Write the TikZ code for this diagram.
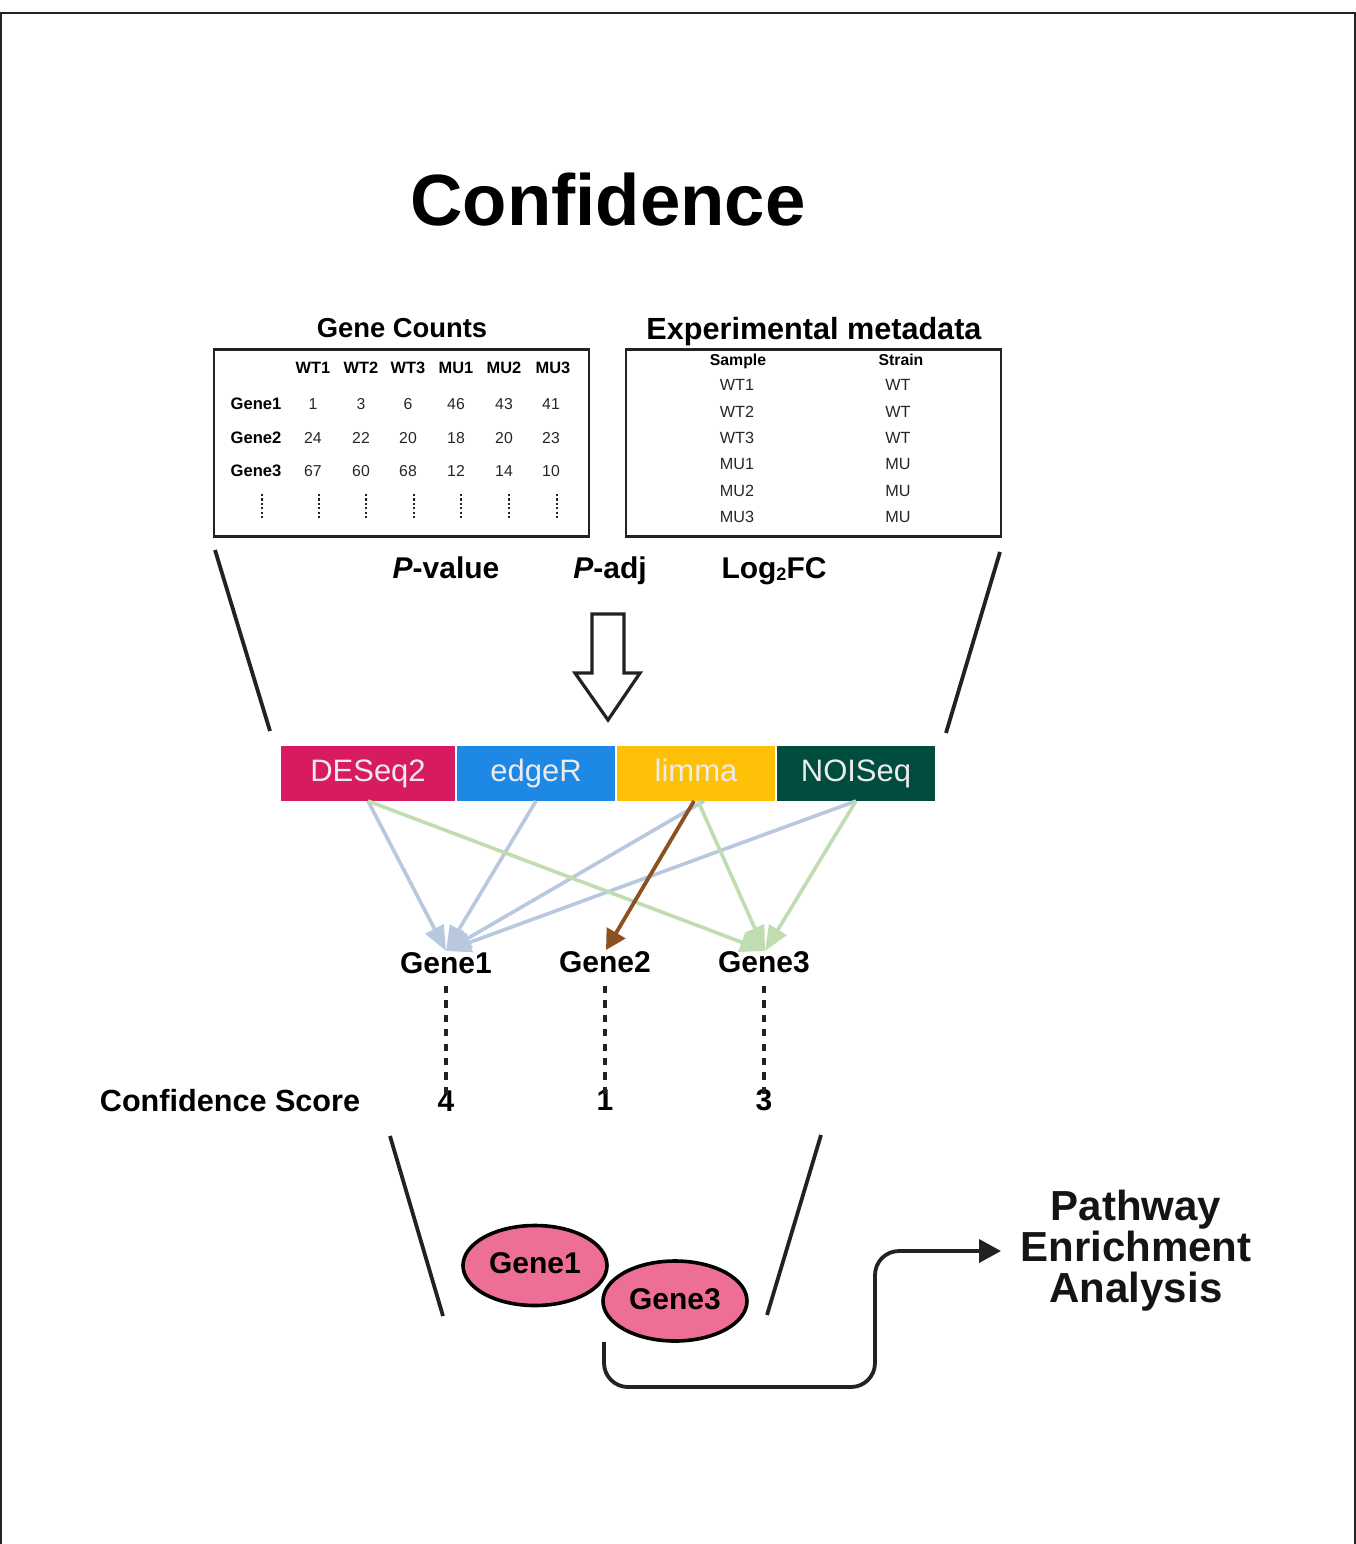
\documentclass[tikz,border=0pt]{standalone}
\usepackage{fontspec}
\setmainfont{Liberation Sans}
\usetikzlibrary{arrows.meta,shapes.geometric,calc}
\definecolor{cdeseq}{HTML}{D81B60}
\definecolor{cedger}{HTML}{1E88E5}
\definecolor{climma}{HTML}{FFC107}
\definecolor{cnoiseq}{HTML}{004D40}
\definecolor{cblue}{HTML}{B8C8DE}
\definecolor{cgreen}{HTML}{BFDDB0}
\definecolor{cbrown}{HTML}{8B5220}
\definecolor{cpink}{HTML}{EE6F96}
\definecolor{cdark}{HTML}{222222}
\newcommand{\fs}[1]{\fontsize{#1}{#1}\selectfont}
\tikzset{
  x=0.5pt,y=-0.5pt,
  txt/.style={inner sep=0pt,outer sep=0pt,anchor=center,text=black},
  tbold/.style={txt,font=\fs{8.2}\bfseries},
  rbold/.style={txt,font=\fs{8.3}\bfseries},
  tcell/.style={txt,font=\fs{7.9},text=black!85},
  mbold/.style={txt,font=\fs{7.9}\bfseries},
  mcell/.style={txt,font=\fs{8.1},text=black!85},
  sidebar/.style={line width=1.9pt,draw=cdark},
  vdots/.style={line width=1.4pt,draw=cdark,dash pattern=on 1.1pt off 1.1pt},
  method/.style={inner sep=0pt,outer sep=0pt,minimum height=27.5pt,font=\fs{15.5},text=white!92!black,text height=11.2pt,text depth=3.3pt},
  edgeblue/.style={line width=1.8pt,draw=cblue,-{Triangle[length=12.5pt,width=10pt,fill=cblue]}},
  edgegreen/.style={line width=1.8pt,draw=cgreen,-{Triangle[length=12.5pt,width=10pt,fill=cgreen]}},
  edgebrown/.style={line width=1.9pt,draw=cbrown,-{Triangle[length=10pt,width=10.5pt,fill=cbrown]}},
  genelabel/.style={txt,font=\fs{15}\bfseries},
  score/.style={txt,font=\fs{15}\bfseries},
  scorelink/.style={line width=1.8pt,draw=cdark,dash pattern=on 3.6pt off 3.6pt},
  hit/.style={ellipse,draw=black,line width=1.8pt,fill=cpink,inner sep=0pt,minimum width=72pt,minimum height=40pt,font=\fs{15}\bfseries},
}
\begin{document}
\begin{tikzpicture}
\useasboundingbox (0,0) rectangle (1356,1544);
\fill[white] (0,0) rectangle (1356,1544);
\draw[line width=1pt,draw=cdark] (1,1544) -- (1,13) -- (1355,13) -- (1355,1544);
\node[txt,font=\fs{36.3}\bfseries] (title) at (608,200) {Confidence};

% Gene counts
\node[txt,font=\fs{13.7}\bfseries] (gchead) at (402,328) {Gene Counts};
\node[draw=cdark,line width=1.1pt,minimum width=187.5pt,minimum height=93.5pt,inner sep=0pt] (gcbox) at (401.5,443) {};
\foreach \n/\x/\lab in {a/313/WT1,b/361/WT2,c/408/WT3,d/456/MU1,e/504/MU2,f/553/MU3}
  \node[tbold] (h\n) at (\x,368) {\lab};
\foreach \n/\y/\lab in {1/404/Gene1,2/438/Gene2,3/471/Gene3}
  \node[rbold] (r\n) at (256,\y) {\lab};
\foreach \n/\x/\p/\q/\r in {a/313/1/24/67,b/361/3/22/60,c/408/6/20/68,d/456/46/18/12,e/504/43/20/14,f/551/41/23/10}{
  \node[tcell] (c1\n) at (\x,404) {\p};
  \node[tcell] (c2\n) at (\x,438) {\q};
  \node[tcell] (c3\n) at (\x,471) {\r};
}
\foreach \n/\x in {g/262,a/319,b/366,c/414,d/461,e/509,f/557}{
  \coordinate (dt\n) at (\x,494);
  \coordinate (db\n) at (\x,520);
  \draw[vdots] (dt\n) -- (db\n);
}

% Metadata
\node[txt,font=\fs{15.3}\bfseries] (mdhead) at (814,332) {Experimental metadata};
\node[draw=cdark,line width=1.1pt,minimum width=187.5pt,minimum height=93.5pt,inner sep=0pt] (mdbox) at (813.5,443) {};
\node[mbold] (sh) at (738,361) {Sample};
\node[mbold] (st) at (901,360) {Strain};
\foreach \n/\y/\s/\t in {1/385/WT1/WT,2/412/WT2/WT,3/438/WT3/WT,4/464/MU1/MU,5/491/MU2/MU,6/517/MU3/MU}{
  \node[mcell] (ms\n) at (737,\y) {\s};
  \node[mcell] (mt\n) at (898,\y) {\t};
}

% stats
\node[txt,font=\fs{15}\bfseries] (pval) at (446,568) {\textit{P}-value};
\node[txt,font=\fs{15}\bfseries] (padj) at (610,571) {\textit{P}-adj};
\node[txt,font=\fs{15}\bfseries] (lfc) at (774,571) {Log\raisebox{-1.2pt}{\fs{9}2}FC};

% big arrow
\draw[line width=1.6pt,draw=cdark,fill=white,line join=miter]
  (592,614) -- (624,614) -- (624,673) -- (640,673) -- (608,720) -- (575,673) -- (592,673) -- cycle;

% funnel top
\coordinate (f1a) at (215,550); \coordinate (f1b) at (270,731);
\coordinate (f2a) at (1000,552); \coordinate (f2b) at (946,733);
\draw[sidebar] (f1a) -- (f1b);
\draw[sidebar] (f2a) -- (f2b);

% methods
\node[method,fill=cdeseq,minimum width=87pt] (deseq) at (368,773.5) {DESeq2};
\node[method,fill=cedger,minimum width=79pt] (edger) at (536,773.5) {edgeR};
\node[method,fill=climma,minimum width=79pt] (limma) at (696,773.5) {limma};
\node[method,fill=cnoiseq,minimum width=79pt] (noiseq) at (856,773.5) {NOISeq};

% gene labels
\node[genelabel] (g1) at (446,963) {Gene1};
\node[genelabel] (g2) at (605,962) {Gene2};
\node[genelabel] (g3) at (764,962) {Gene3};
\coordinate (g1t) at (446,951);
\coordinate (g2t) at (606,950);
\coordinate (g3t) at (765,951);

\draw[edgeblue] ($(limma.south)+(8,0)$) -- (g1t);
\draw[edgeblue] (noiseq.south) -- (g1t);
\draw[edgeblue] (deseq.south) -- (g1t);
\draw[edgeblue] (edger.south) -- (g1t);
\draw[edgegreen] (deseq.south) -- (g3t);
\draw[edgegreen] ($(limma.south)+(2,0)$) -- (g3t);
\draw[edgegreen] (noiseq.south) -- (g3t);
\draw[edgebrown] ($(limma.south)+(-2,0)$) -- (g2t);

% confidence
\node[txt,font=\fs{15.3}\bfseries] (cs) at (230,1101) {Confidence Score};
\node[score] (s1) at (446,1101) {4};
\node[score] (s2) at (605,1100) {1};
\node[score] (s3) at (764,1100) {3};
\coordinate (g1b) at (446,986);\coordinate (g2b) at (605,986);\coordinate (g3b) at (764,986);
\draw[scorelink] (g1b) -- (s1.center);
\draw[scorelink] (g2b) -- (s2.center);
\draw[scorelink] (g3b) -- (s3.center);

% funnel bottom
\coordinate (f3a) at (390,1136); \coordinate (f3b) at (443,1316);
\coordinate (f4a) at (821,1135); \coordinate (f4b) at (767,1315);
\draw[sidebar] (f3a) -- (f3b);
\draw[sidebar] (f4a) -- (f4b);

% ellipses
\node[hit] (e1) at (535,1265.5) {\raisebox{2pt}{Gene1}};
\node[hit] (e3) at (675,1301) {\raisebox{2pt}{Gene3}};

% pathway
\node[txt,font=\fs{21}\bfseries,align=center,text=black!92] (path) at (1136,1251) {Pathway\\[-0.5pt]Enrichment\\[-0.5pt]Analysis};
\coordinate (ps) at (604,1342);
\coordinate (pt) at (1001,1251);
\draw[line width=1.9pt,draw=cdark,rounded corners=12pt,-{Triangle[length=11pt,width=11.5pt,fill=cdark]}]
  (ps) -- (604,1387) -- (875,1387) -- (875,1251) -- (pt);
\end{tikzpicture}
\end{document}
